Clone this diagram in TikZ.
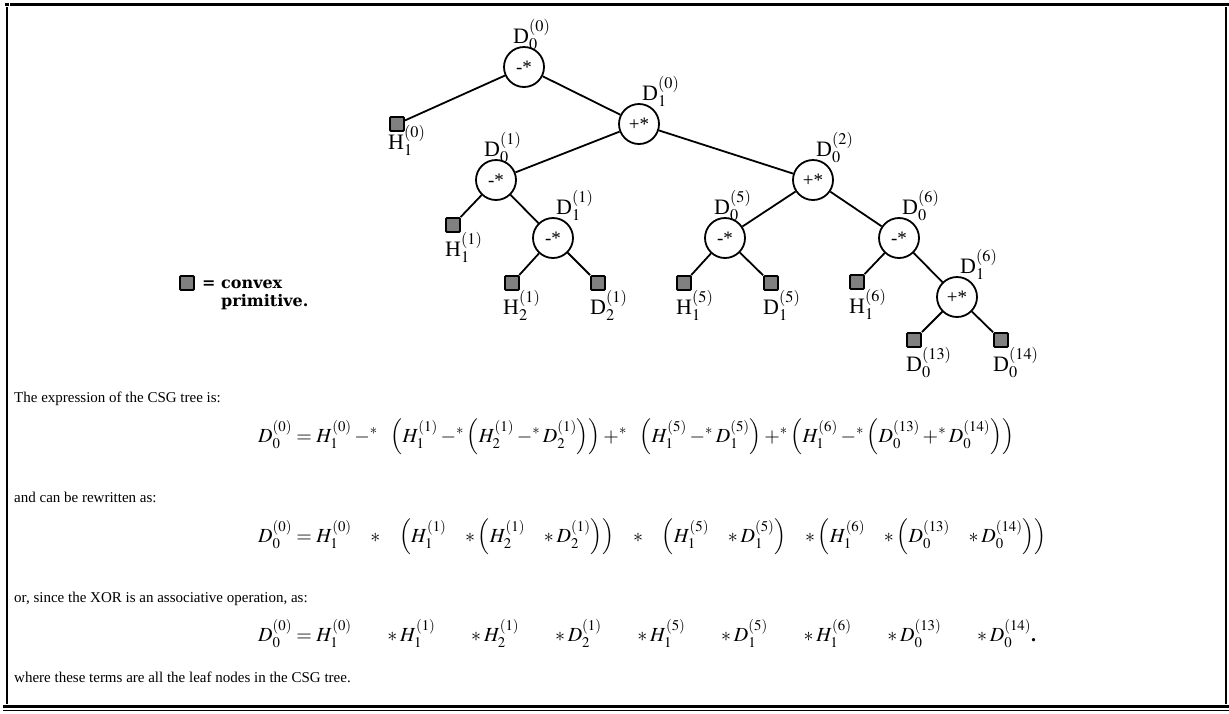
\documentclass[tikz,border=0pt]{standalone}
\usepackage{mathptmx}
\usepackage{fontspec}
\setmainfont{Liberation Serif}
\newfontfamily\keyfont{DejaVu Serif}
\newcommand{\xop}[1]{\mathbin{#1^{*}}}
\newcommand{\wide}[1]{\hspace{#1pt}}

\begin{document}
\begin{tikzpicture}[x=1pt, y=-1pt,
    op/.style={circle, draw=black, fill=white, line width=1.8pt, minimum size=40pt, inner sep=0pt, font=\fontsize{19}{19}\selectfont},
    leaf/.style={rectangle, draw=black, fill=gray, rounded corners=1pt, line width=1.8pt, minimum size=14pt, inner sep=0pt},
    tag/.style={anchor=base west, inner sep=0pt, font=\fontsize{22}{22}\selectfont},
    txt/.style={anchor=base west, inner sep=0pt, font=\fontsize{15}{18}\selectfont},
    eqn/.style={anchor=base west, inner sep=0pt, font=\fontsize{20}{23}\selectfont},
    link/.style={line width=1.8pt}]

    \useasboundingbox (0,0) rectangle (1229,713);

    % Cornice
    \fill (5,3) rectangle (9,6);
    \draw[line width=2.2pt] (10,4.5) -- (1229,4.5);
    \draw[line width=2.5pt] (7,7) -- (7,704);
    \draw[line width=2.5pt] (1226,7) -- (1226,704);
    \draw[line width=2.2pt] (3,706.5) -- (1229,706.5);
    \draw[line width=1pt] (3,710.5) -- (1229,710.5);

    % Nodi operatore
    \foreach \n/\x/\y/\t in {r/524/67/-*, a/639/124/+*, b/496/180/-*, c/553/238/-*,
                             d/813/180/+*, e/725/238/-*, f/899/238/-*, g/957/297/+*} {
      \node[op] (\n) at (\x,\y) {\t};
    }

    % Primitive convesse (foglie)
    \foreach \n/\x/\y in {h0/397/124, h1/453/225, h2/512/283, d2/598/283, h5/684/283,
                          d5/771/283, h6/857/282, d13/914/340, d14/1001/340} {
      \node[leaf] (\n) at (\x,\y) {};
    }

    % Rami
    \foreach \p/\c in {r/h0, r/a, a/b, a/d, b/h1, b/c, c/h2, c/d2, d/e, d/f,
                       e/h5, e/d5, f/h6, f/g, g/d13, g/d14} {
      \draw[link] (\p) -- (\c);
    }

    % Etichette
    \node[tag] (lr) at (513,43) {D$_0^{(0)}$};
    \node[tag] (la) at (642,100) {D$_1^{(0)}$};
    \node[tag] (lb) at (484,156) {D$_0^{(1)}$};
    \node[tag] (lc) at (556,214) {D$_1^{(1)}$};
    \node[tag] (ld) at (816,156) {D$_0^{(2)}$};
    \node[tag] (le) at (714,214) {D$_0^{(5)}$};
    \node[tag] (lf) at (902,214) {D$_0^{(6)}$};
    \node[tag] (lg) at (960,273) {D$_1^{(6)}$};
    \node[tag] (lh0) at (388,149) {H$_1^{(0)}$};
    \node[tag] (lh1) at (445,256) {H$_1^{(1)}$};
    \node[tag] (lh2) at (503,314) {H$_2^{(1)}$};
    \node[tag] (ld2) at (590,314) {D$_2^{(1)}$};
    \node[tag] (lh5) at (676,314) {H$_1^{(5)}$};
    \node[tag] (ld5) at (763,314) {D$_1^{(5)}$};
    \node[tag] (lh6) at (849,313) {H$_1^{(6)}$};
    \node[tag] (ld13) at (906,371) {D$_0^{(13)}$};
    \node[tag] (ld14) at (993,371) {D$_0^{(14)}$};

    % Legenda
    \node[leaf] (key) at (187,283) {};
    \node[txt, font=\keyfont\bfseries\fontsize{16}{18}\selectfont] (keq) at (202,288) {=};
    \node[txt, font=\keyfont\bfseries\fontsize{16}{18}\selectfont] (k1) at (221,288) {convex};
    \node[txt, font=\keyfont\bfseries\fontsize{16}{18}\selectfont] (k2) at (221,306) {primitive.};

    % Testo ed espressioni
    \node[txt] (t1) at (14,402) {The expression of the CSG tree is:};
    \node[eqn] (eq1) at (258,442) {$D_0^{(0)} = H_1^{(0)} \xop{-}\wide{10} \Bigl(H_1^{(1)} \xop{-} \Bigl(H_2^{(1)} \xop{-} D_2^{(1)}\Bigr)\Bigr) \xop{+}\wide{10} \Bigl(H_1^{(5)} \xop{-} D_1^{(5)}\Bigr) \xop{+} \Bigl(H_1^{(6)} \xop{-} \Bigl(D_0^{(13)} \xop{+} D_0^{(14)}\Bigr)\Bigr)$};
    \node[txt] (t2) at (14,502) {and can be rewritten as:};
    \node[eqn] (eq2) at (258,542) {$D_0^{(0)} = H_1^{(0)} \wide{16}\ast\wide{16} \Bigl(H_1^{(1)} \wide{16}\ast \Bigl(H_2^{(1)} \wide{16}\ast D_2^{(1)}\Bigr)\Bigr) \wide{16}\ast\wide{16} \Bigl(H_1^{(5)} \wide{16}\ast D_1^{(5)}\Bigr) \wide{16}\ast \Bigl(H_1^{(6)} \wide{16}\ast \Bigl(D_0^{(13)} \wide{16}\ast D_0^{(14)}\Bigr)\Bigr)$};
    \node[txt] (t3) at (14,602) {or, since the XOR is an associative operation, as:};
    \node[eqn] (eq3) at (258,641) {$D_0^{(0)} = H_1^{(0)} \wide{33}\ast H_1^{(1)} \wide{33}\ast H_2^{(1)} \wide{33}\ast D_2^{(1)} \wide{33}\ast H_1^{(5)} \wide{33}\ast D_1^{(5)} \wide{33}\ast H_1^{(6)} \wide{33}\ast D_0^{(13)} \wide{33}\ast D_0^{(14)}$\textbf{.}};
    \node[txt] (t4) at (14,682) {where these terms are all the leaf nodes in the CSG tree.};
  \end{tikzpicture}
\end{document}
